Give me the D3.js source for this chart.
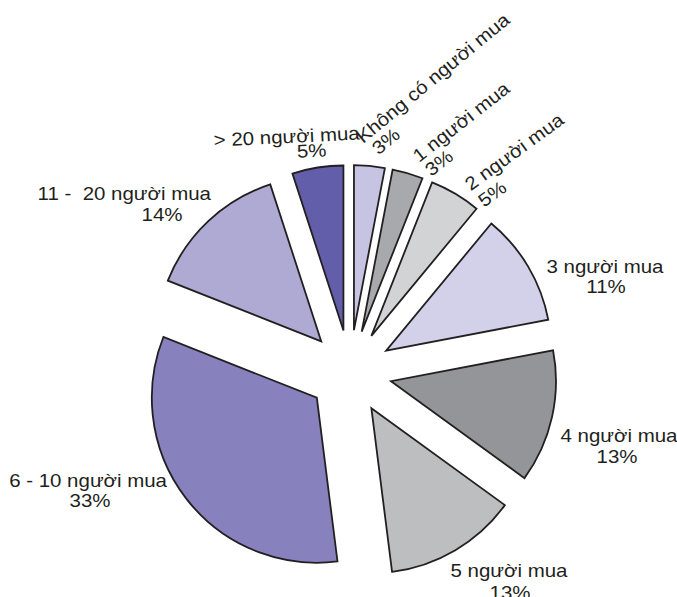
<!DOCTYPE html>
<html>
<head>
<meta charset="utf-8">
<script src="https://cdn.jsdelivr.net/npm/d3@7"></script>
<style>
  html, body { margin: 0; padding: 0; background: #ffffff; }
  svg { display: block; }
  text { font-family: "Liberation Sans", Arial, sans-serif; fill: #231f20; white-space: pre; }
</style>
</head>
<body>
<svg id="chart" width="677" height="597"></svg>
<script>
// Buyer-count categories, clockwise from 12 o'clock
const categories = [
  "Không có người mua",
  "1 người mua",
  "2 người mua",
  "3 người mua",
  "4 người mua",
  "5 người mua",
  "6 - 10 người mua",
  "11 -  20 người mua",
  "> 20 người mua"
];
// Share of each category, in percent
const shares = [3, 3, 5, 11, 13, 13, 33, 14, 5];
// Slice fills
const sliceColors = [
  "#c6c4e2", "#a7a9ac", "#d1d3d4", "#d3d1ea", "#939598",
  "#bcbec0", "#8781bd", "#aeaad3", "#625ea9"
];

// Where each label's two lines sit (name line, percent line)
const labelLayout = [
  { name: { x: 437, y: 83,  a: "middle", r: -39.5 }, pct: { x: 390, y: 146, a: "middle", r: -39.5 } },
  { name: { x: 465, y: 127, a: "middle", r: -38 },   pct: { x: 443, y: 168, a: "middle", r: -38 } },
  { name: { x: 518, y: 157, a: "middle", r: -36 },   pct: { x: 496, y: 199, a: "middle", r: -36 } },
  { name: { x: 605, y: 273, a: "middle", r: 0 },     pct: { x: 606, y: 293, a: "middle", r: 0 } },
  { name: { x: 619, y: 442, a: "middle", r: 0 },     pct: { x: 617, y: 463, a: "middle", r: 0 } },
  { name: { x: 509, y: 577, a: "middle", r: 0 },     pct: { x: 510, y: 599, a: "middle", r: 0 } },
  { name: { x: 167, y: 487, a: "end",    r: 0 },     pct: { x: 90,  y: 507, a: "middle", r: 0 } },
  { name: { x: 211, y: 200, a: "end",    r: 0 },     pct: { x: 162, y: 221, a: "middle", r: 0 } },
  { name: { x: 287, y: 143, a: "middle", r: -2.8 },  pct: { x: 312, y: 157, a: "middle", r: -2.8 } }
];

const cx = 350, cy = 372;
const radius = 165;
const explode = 42;
const fontSize = 18.6;
const stretch = 1.1;

const svg = d3.select("#chart");

const data = categories.map((c, i) => ({ name: c, value: shares[i], color: sliceColors[i], layout: labelLayout[i] }));

const pie = d3.pie().sort(null).value(d => d.value).startAngle(0).endAngle(2 * Math.PI);
const arc = d3.arc().innerRadius(0).outerRadius(radius);

const arcs = pie(data);

const g = svg.append("g").attr("transform", `translate(${cx},${cy})`);

// Exploded slices, each pushed out along its mid-angle
g.selectAll("path.slice")
  .data(arcs)
  .join("path")
  .attr("class", "slice")
  .attr("d", arc)
  .attr("fill", d => d.data.color)
  .attr("stroke", "#231f20")
  .attr("stroke-width", 1.8)
  .attr("stroke-linejoin", "miter")
  .attr("transform", d => {
    const mid = (d.startAngle + d.endAngle) / 2;
    return `translate(${explode * Math.sin(mid)},${-explode * Math.cos(mid)})`;
  });

// Labels: category name and percentage, each line placed on its own
function addLine(pos, str) {
  svg.append("text")
    .attr("transform", `translate(${pos.x},${pos.y}) rotate(${pos.r}) scale(${stretch},1)`)
    .attr("text-anchor", pos.a)
    .attr("font-size", fontSize)
    .text(str);
}

arcs.forEach(d => {
  addLine(d.data.layout.name, d.data.name);
  addLine(d.data.layout.pct, d.data.value + "%");
});
</script>
</body>
</html>
